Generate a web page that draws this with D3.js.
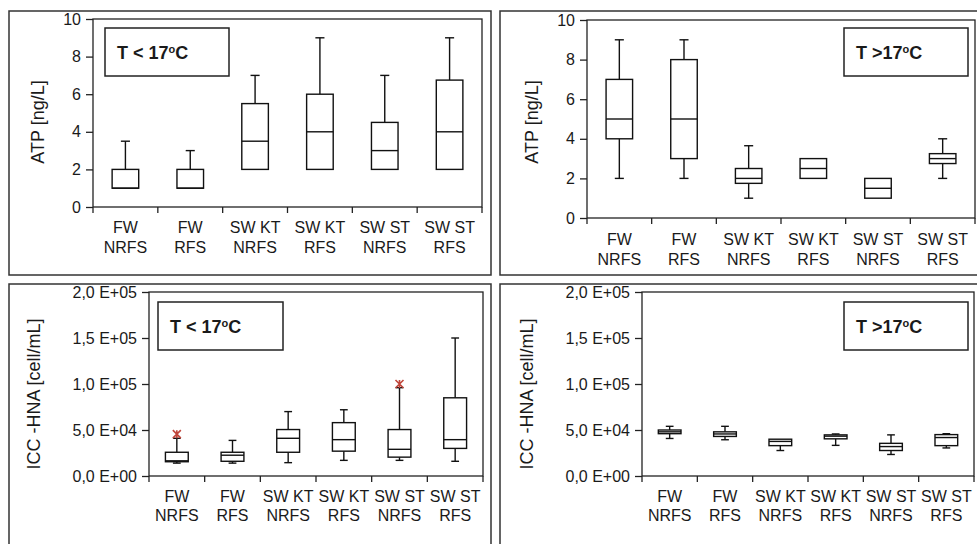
<!DOCTYPE html>
<html>
<head>
<meta charset="utf-8">
<script src="https://cdn.jsdelivr.net/npm/d3@7"></script>
<style>
  body { margin: 0; background: #fff; }
  svg text { font-family: Arial, 'Liberation Sans', sans-serif; fill: #1a1a1a; }
</style>
</head>
<body>
<script>
var width = 977,
    height = 544;

// categories (two label lines each)
var categories = ['FW NRFS', 'FW RFS', 'SW KT NRFS', 'SW KT RFS', 'SW ST NRFS', 'SW ST RFS'];
var catLines = [['FW', 'NRFS'], ['FW', 'RFS'], ['SW KT', 'NRFS'], ['SW KT', 'RFS'], ['SW ST', 'NRFS'], ['SW ST', 'RFS']];

// five-number summaries: [min, q1, median, q3, max]
var atpCold = [[1, 1, 1, 2, 3.5], [1, 1, 1, 2, 3], [2, 2, 3.5, 5.5, 7], [2, 2, 4, 6, 9], [2, 2, 3, 4.5, 7], [2, 2, 4, 6.75, 9]];
var atpWarm = [[2, 4, 5, 7, 9], [2, 3, 5, 8, 9], [1, 1.75, 2, 2.5, 3.65], [2, 2, 2.5, 3, 3], [1, 1, 1.5, 2, 2], [2, 2.75, 3, 3.25, 4]];
var iccCold = [[14000, 15500, 16500, 25800, 41000], [14000, 16000, 22600, 25800, 38700], [14500, 25800, 41000, 50500, 70000],
               [17000, 27000, 39500, 58000, 72000], [17000, 20500, 29000, 50500, 96000], [16000, 30000, 39500, 85000, 150000]];
var iccWarm = [[40800, 46000, 48000, 50000, 54000], [39400, 43000, 45700, 48000, 54000], [27700, 33000, 37600, 40000, 40000],
               [33300, 40400, 43300, 44700, 45700], [23400, 27700, 32000, 35500, 44700], [30500, 33000, 41800, 45000, 46000]];
// outliers: [category index, value]
var iccColdOutliers = [[0, 45500], [4, 100000]];

var atpTicks = [0, 2, 4, 6, 8, 10];
var iccTicks = [0, 50000, 100000, 150000, 200000];
var iccTickLabels = ['0,0 E+00', '5,0 E+04', '1,0 E+05', '1,5 E+05', '2,0 E+05'];

var svg = d3.select('body')
  .append('svg')
  .attr('width', width)
  .attr('height', height);

var panels = [
  { frame: [9, 11, 491, 275], plot: [93, 19, 482, 207], data: atpCold, outliers: [], domain: [0, 10],
    ticks: atpTicks, tickLabels: atpTicks.map(String), ylabel: 'ATP [ng/L]', ylabelPos: [38, 122],
    legend: [105, 28, 124, 48], legendText: ['T < 17', 'C'], lab1: 26, lab2: 46 },
  { frame: [500, 11, 985, 275], plot: [587, 20, 975, 218], data: atpWarm, outliers: [], domain: [0, 10],
    ticks: atpTicks, tickLabels: atpTicks.map(String), ylabel: 'ATP [ng/L]', ylabelPos: [532, 122],
    legend: [844, 28, 124, 48], legendText: ['T >17', 'C'], lab1: 27, lab2: 47 },
  { frame: [9, 284, 491, 560], plot: [149, 292, 483, 476], data: iccCold, outliers: iccColdOutliers, domain: [0, 200000],
    ticks: iccTicks, tickLabels: iccTickLabels, ylabel: 'ICC -HNA [cell/mL]', ylabelPos: [34, 394],
    legend: [158, 302, 125, 48], legendText: ['T < 17', 'C'], lab1: 26, lab2: 45 },
  { frame: [500, 284, 985, 560], plot: [642, 292, 974, 476], data: iccWarm, outliers: [], domain: [0, 200000],
    ticks: iccTicks, tickLabels: iccTickLabels, ylabel: 'ICC -HNA [cell/mL]', ylabelPos: [527, 394],
    legend: [844, 302, 124, 48], legendText: ['T >17', 'C'], lab1: 26, lab2: 45 }
];

panels.forEach(function(p) {
  var g = svg.append('g');

  // outer panel border
  g.append('rect')
    .attr('x', p.frame[0]).attr('y', p.frame[1])
    .attr('width', p.frame[2] - p.frame[0]).attr('height', p.frame[3] - p.frame[1])
    .attr('fill', 'none').attr('stroke', '#333').attr('stroke-width', 1.5);

  var xScale = d3.scaleBand()
    .domain(categories)
    .range([p.plot[0], p.plot[2]])
    .padding(0);

  var yScale = d3.scaleLinear()
    .domain(p.domain)
    .range([p.plot[3], p.plot[1]]);

  // plot frame
  g.append('rect')
    .attr('x', p.plot[0]).attr('y', p.plot[1])
    .attr('width', p.plot[2] - p.plot[0]).attr('height', p.plot[3] - p.plot[1])
    .attr('fill', 'none').attr('stroke', '#222').attr('stroke-width', 1.3);

  var yAxis = d3.axisLeft(yScale)
    .tickValues(p.ticks)
    .tickFormat(function(d, i) { return p.tickLabels[i]; })
    .tickSize(7)
    .tickPadding(5);

  var ya = g.append('g')
    .attr('transform', 'translate(' + p.plot[0] + ',0)')
    .call(yAxis);
  ya.select('.domain').remove();
  ya.selectAll('line').attr('stroke', '#222').attr('stroke-width', 1.3);
  ya.selectAll('text').style('font-size', '16px').attr('fill', '#1a1a1a');

  // x boundary ticks
  var bounds = categories.map(function(c) { return xScale(c); }).concat([p.plot[2]]);
  g.selectAll('.xtick')
    .data(bounds)
    .enter()
    .append('line')
    .attr('x1', function(d) { return d; }).attr('x2', function(d) { return d; })
    .attr('y1', p.plot[3]).attr('y2', p.plot[3] + 6)
    .attr('stroke', '#222').attr('stroke-width', 1.3);

  // x labels
  var lab = g.selectAll('.xlab')
    .data(catLines)
    .enter()
    .append('text')
    .attr('text-anchor', 'middle')
    .style('font-size', '16px');
  lab.append('tspan')
    .attr('x', function(d, i) { return xScale(categories[i]) + xScale.bandwidth() / 2; })
    .attr('y', p.plot[3] + p.lab1)
    .text(function(d) { return d[0]; });
  lab.append('tspan')
    .attr('x', function(d, i) { return xScale(categories[i]) + xScale.bandwidth() / 2; })
    .attr('y', p.plot[3] + p.lab2)
    .text(function(d) { return d[1]; });

  // y label
  g.append('text')
    .attr('transform', 'translate(' + p.ylabelPos[0] + ',' + p.ylabelPos[1] + ') rotate(-90)')
    .attr('text-anchor', 'middle')
    .attr('dy', '0.35em')
    .style('font-size', '18px')
    .text(p.ylabel);

  // boxes
  var bw = xScale.bandwidth();
  var boxW = bw * 0.41,
      capW = bw * 0.14;
  var boxes = g.selectAll('.box')
    .data(p.data)
    .enter()
    .append('g');

  boxes.each(function(d, i) {
    var b = d3.select(this);
    var cx = xScale(categories[i]) + bw / 2;
    var stroke = '#111';
    if (d[4] > d[3]) {
      b.append('line').attr('x1', cx).attr('x2', cx).attr('y1', yScale(d[3])).attr('y2', yScale(d[4]))
        .attr('stroke', stroke).attr('stroke-width', 1.4);
      b.append('line').attr('x1', cx - capW / 2).attr('x2', cx + capW / 2).attr('y1', yScale(d[4])).attr('y2', yScale(d[4]))
        .attr('stroke', stroke).attr('stroke-width', 1.4);
    }
    if (d[0] < d[1]) {
      b.append('line').attr('x1', cx).attr('x2', cx).attr('y1', yScale(d[1])).attr('y2', yScale(d[0]))
        .attr('stroke', stroke).attr('stroke-width', 1.4);
      b.append('line').attr('x1', cx - capW / 2).attr('x2', cx + capW / 2).attr('y1', yScale(d[0])).attr('y2', yScale(d[0]))
        .attr('stroke', stroke).attr('stroke-width', 1.4);
    }
    b.append('rect')
      .attr('x', cx - boxW / 2).attr('width', boxW)
      .attr('y', yScale(d[3])).attr('height', yScale(d[1]) - yScale(d[3]))
      .attr('fill', '#fff').attr('stroke', stroke).attr('stroke-width', 1.4);
    b.append('line').attr('x1', cx - boxW / 2).attr('x2', cx + boxW / 2)
      .attr('y1', yScale(d[2])).attr('y2', yScale(d[2]))
      .attr('stroke', stroke).attr('stroke-width', 1.4);
  });

  // outlier stars
  p.outliers.forEach(function(o) {
    var cx = xScale(categories[o[0]]) + bw / 2,
        cy = yScale(o[1]),
        s = 4;
    g.append('path')
      .attr('d', 'M' + (cx - s) + ',' + (cy - s) + 'L' + (cx + s) + ',' + (cy + s) +
                 'M' + (cx - s) + ',' + (cy + s) + 'L' + (cx + s) + ',' + (cy - s) +
                 'M' + cx + ',' + (cy - s) + 'L' + cx + ',' + (cy + s))
      .attr('stroke', '#c0453a').attr('stroke-width', 1.6).attr('fill', 'none');
  });

  // legend box
  g.append('rect')
    .attr('x', p.legend[0]).attr('y', p.legend[1])
    .attr('width', p.legend[2]).attr('height', p.legend[3])
    .attr('fill', '#fff').attr('stroke', '#222').attr('stroke-width', 1.5);
  var lt = g.append('text')
    .attr('x', p.legend[0] + 12)
    .attr('y', p.legend[1] + 31)
    .style('font-size', '18px')
    .style('font-weight', 'bold');
  lt.append('tspan').text(p.legendText[0]);
  lt.append('tspan').attr('dy', -6).style('font-size', '11px').text('o');
  lt.append('tspan').attr('dy', 6).text(p.legendText[1]);
});
</script>
</body>
</html>
